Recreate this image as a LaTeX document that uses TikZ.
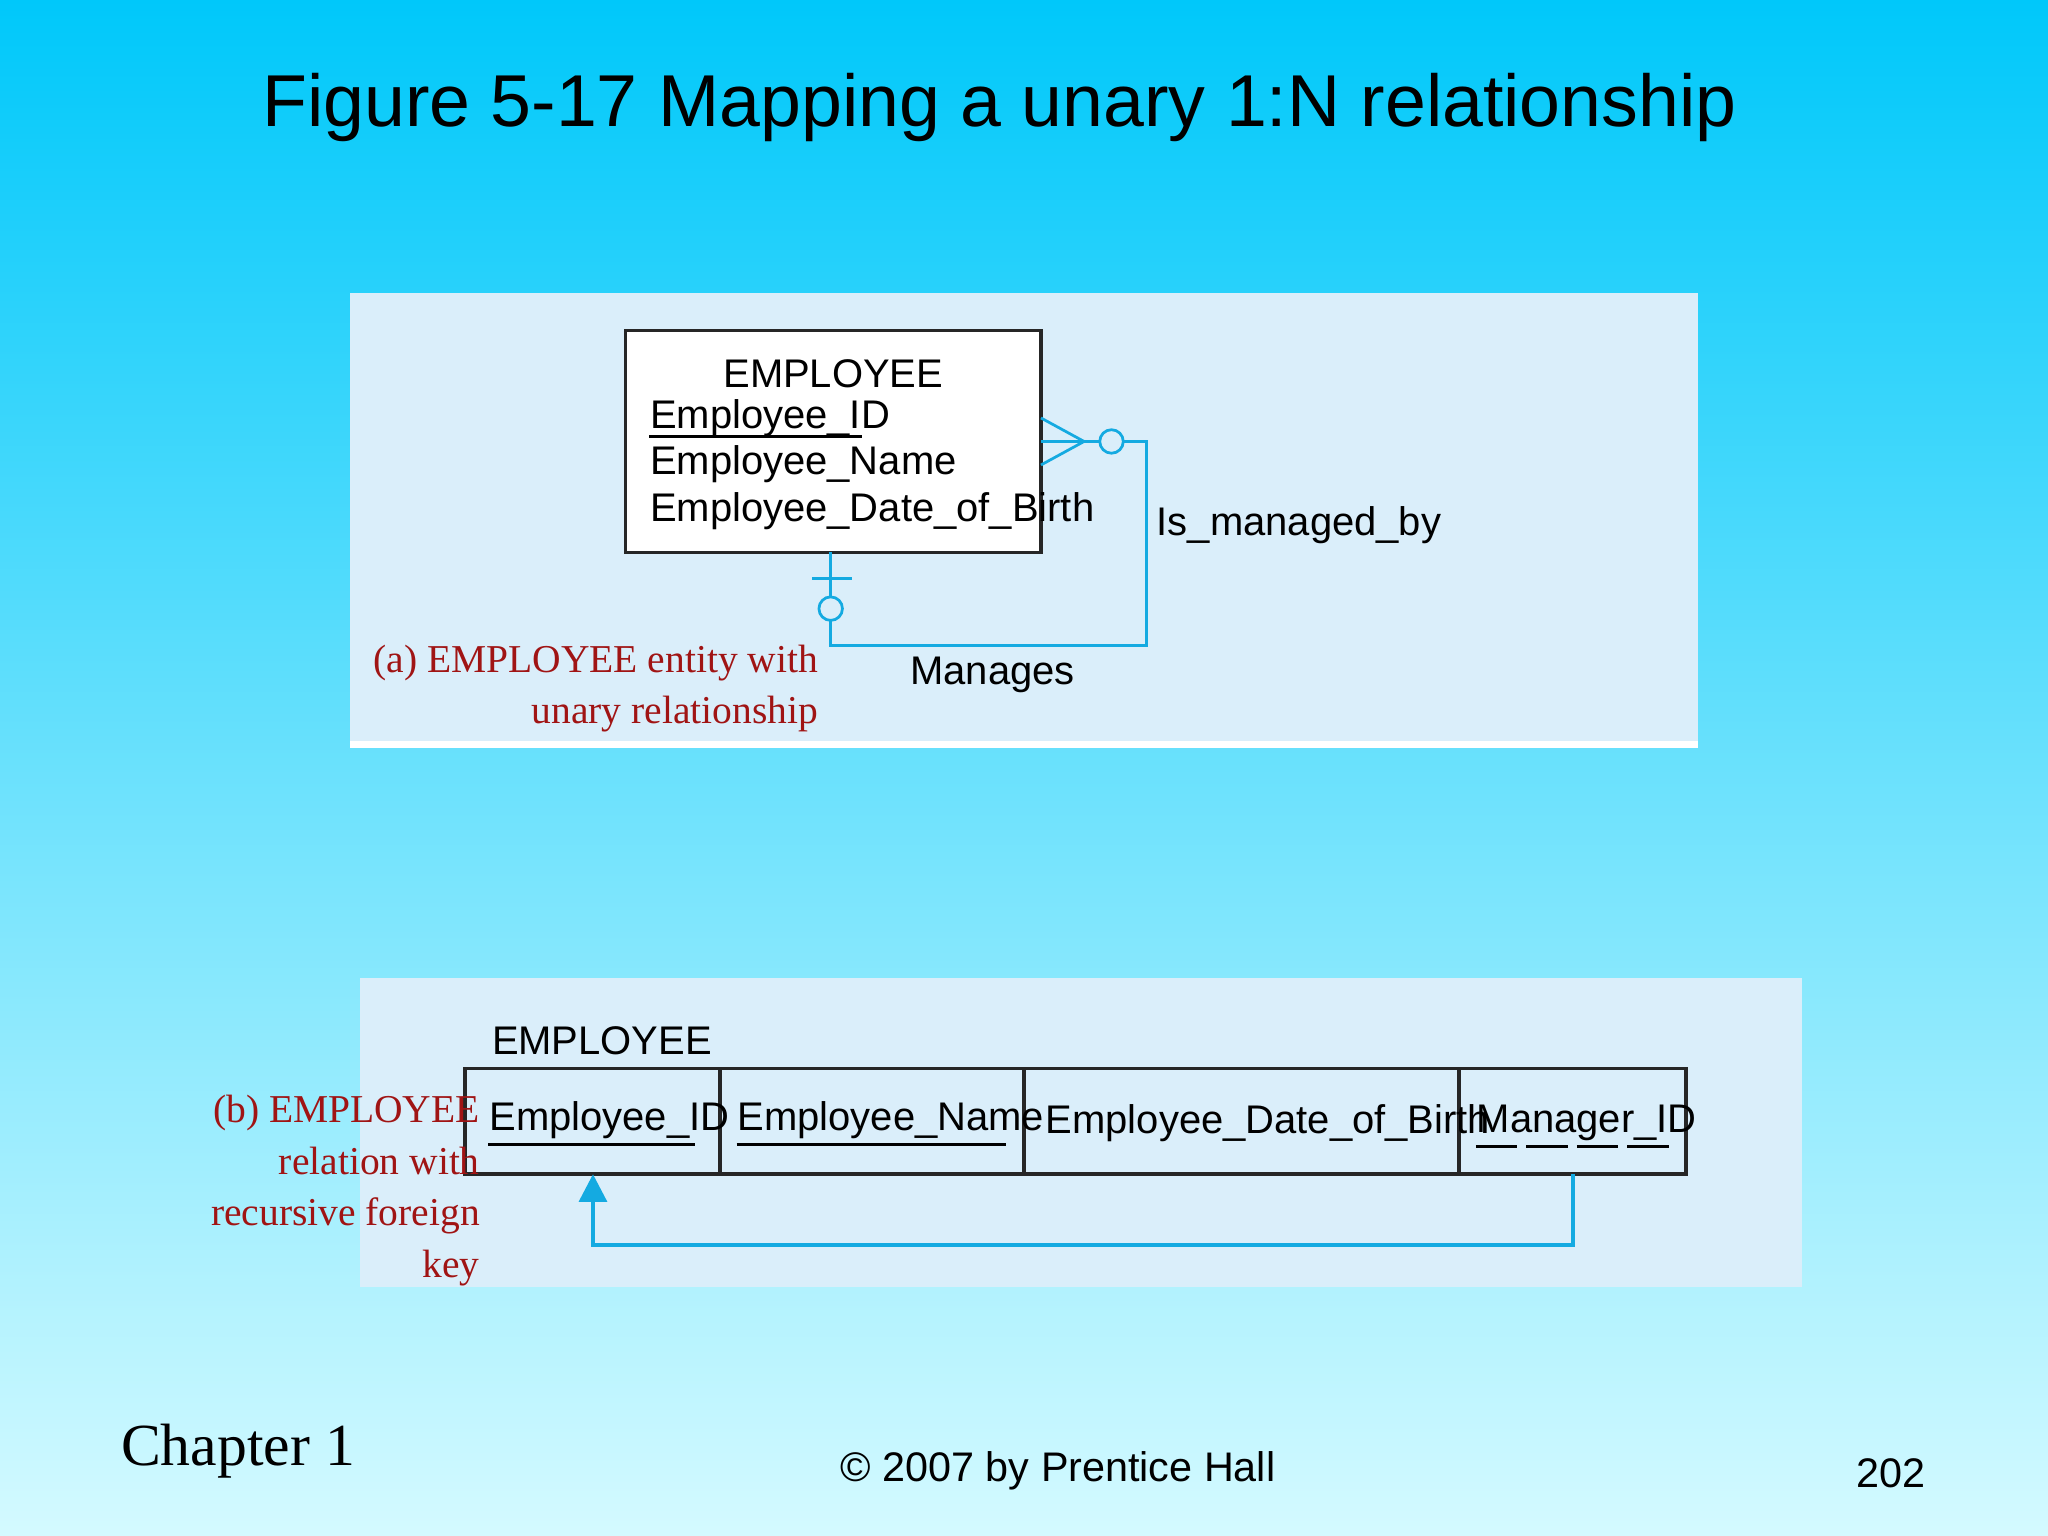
\documentclass[tikz,border=0pt]{standalone}
\usepackage{fontspec}
\setmainfont{Liberation Sans}
\newfontfamily\serifx{Liberation Serif}
\usetikzlibrary{arrows.meta}
\definecolor{erline}{RGB}{20,170,225}
\definecolor{panel}{RGB}{218,238,250}
\definecolor{capred}{RGB}{160,20,20}
\tikzset{
 attr/.style={anchor=west,inner sep=0pt,font=\fontsize{8.7}{10}\selectfont},
 captext/.style={align=right,anchor=north east,inner sep=0pt,text=capred,font=\serifx\fontsize{8.6}{11.2}\selectfont},
 rel/.style={draw=erline,line width=0.6pt},
 cell/.style={draw=black!85,line width=0.8pt}
}
\begin{document}
\begin{tikzpicture}[x=0.01cm,y=-0.01cm]
\useasboundingbox (0,0) rectangle (1568,1176);
\shade[top color={rgb,255:red,0;green,200;blue,250},bottom color={rgb,255:red,212;green,250;blue,255}] (0,0) rectangle (1568,1176);
\node[anchor=west,inner sep=0pt,font=\fontsize{16}{18}\selectfont] (title) at (200,82) {Figure 5-17 Mapping a unary 1:N relationship};
% panel a
\fill[panel] (268,224) rectangle (1300,573);
\draw[white,line width=1.5pt] (268,570) -- (1300,570);
\draw[cell,fill=white] (479,253) rectangle (797,423);
\node[inner sep=0pt,font=\fontsize{8.7}{10}\selectfont] (ename) at (638,286) {EMPLOYEE};
\node[attr] (a1) at (497,320) {Employee\_ID};
\draw[black,line width=0.6pt] (497,334) -- (660,334);
\node[attr] (a2) at (497,355) {Employee\_Name};
\node[attr] (a3) at (497,391) {Employee\_Date\_of\_Birth};
\coordinate (r1) at (797,338);
\coordinate (r2) at (878,338);
\coordinate (r3) at (878,494);
\coordinate (r4) at (636,494);
\coordinate (r5) at (636,423);
\draw[rel] (r1) -- (842,338);
\draw[rel] (860,338) -- (r2) -- (r3) -- (r4) -- (636,475);
\draw[rel] (636,457) -- (r5);
\draw[rel] (797,320) -- (830,338) -- (797,356);
\draw[rel] (851,338) circle (9);
\draw[rel] (622,443) -- (652,443);
\draw[rel] (636,466) circle (9);
\node[attr] (lb1) at (885,402) {Is\_managed\_by};
\node[attr,anchor=center] (lb2) at (760,517) {Manages};
\node[captext] (capa) at (627,493) {(a) EMPLOYEE entity with\\unary relationship};
% panel b
\fill[panel] (276,749) rectangle (1380,985);
\node[attr] (tb) at (376,797) {EMPLOYEE};
\draw[cell] (356,818) rectangle (551,899);
\draw[cell] (551,818) rectangle (784,899);
\draw[cell] (784,818) rectangle (1117,899);
\draw[cell] (1117,818) rectangle (1291,899);
\node[attr] (c1) at (374,858) {Employee\_ID};
\draw[line width=0.6pt] (374,876) -- (532,876);
\node[attr] (c2) at (564,858) {Employee\_Name};
\draw[line width=0.6pt] (564,876) -- (770,876);
\node[attr] (c3) at (800,860) {Employee\_Date\_of\_Birth};
\node[attr] (c4) at (1130,860) {Manager\_ID};
\draw[line width=0.6pt,dash pattern=on 9pt off 2pt] (1130,878) -- (1281,878);
\coordinate (m1) at (1204,899);
\coordinate (m2) at (1204,953);
\coordinate (m3) at (454,953);
\coordinate (m4) at (454,899);
\draw[rel,line width=0.9pt,-{Triangle[length=6pt,width=6pt]}] (m1) -- (m2) -- (m3) -- (m4);
\node[captext] (capb) at (368,838) {(b) EMPLOYEE\\relation with\\recursive foreign\\key};
% footer
\node[anchor=west,inner sep=0pt,font=\serifx\fontsize{13}{15}\selectfont] (ch) at (92,1111) {Chapter 1};
\node[inner sep=0pt,font=\fontsize{9}{11}\selectfont] (copy) at (810,1126) {© 2007 by Prentice Hall};
\node[inner sep=0pt,font=\fontsize{9}{11}\selectfont] (pg) at (1448,1128) {202};
\end{tikzpicture}
\end{document}
